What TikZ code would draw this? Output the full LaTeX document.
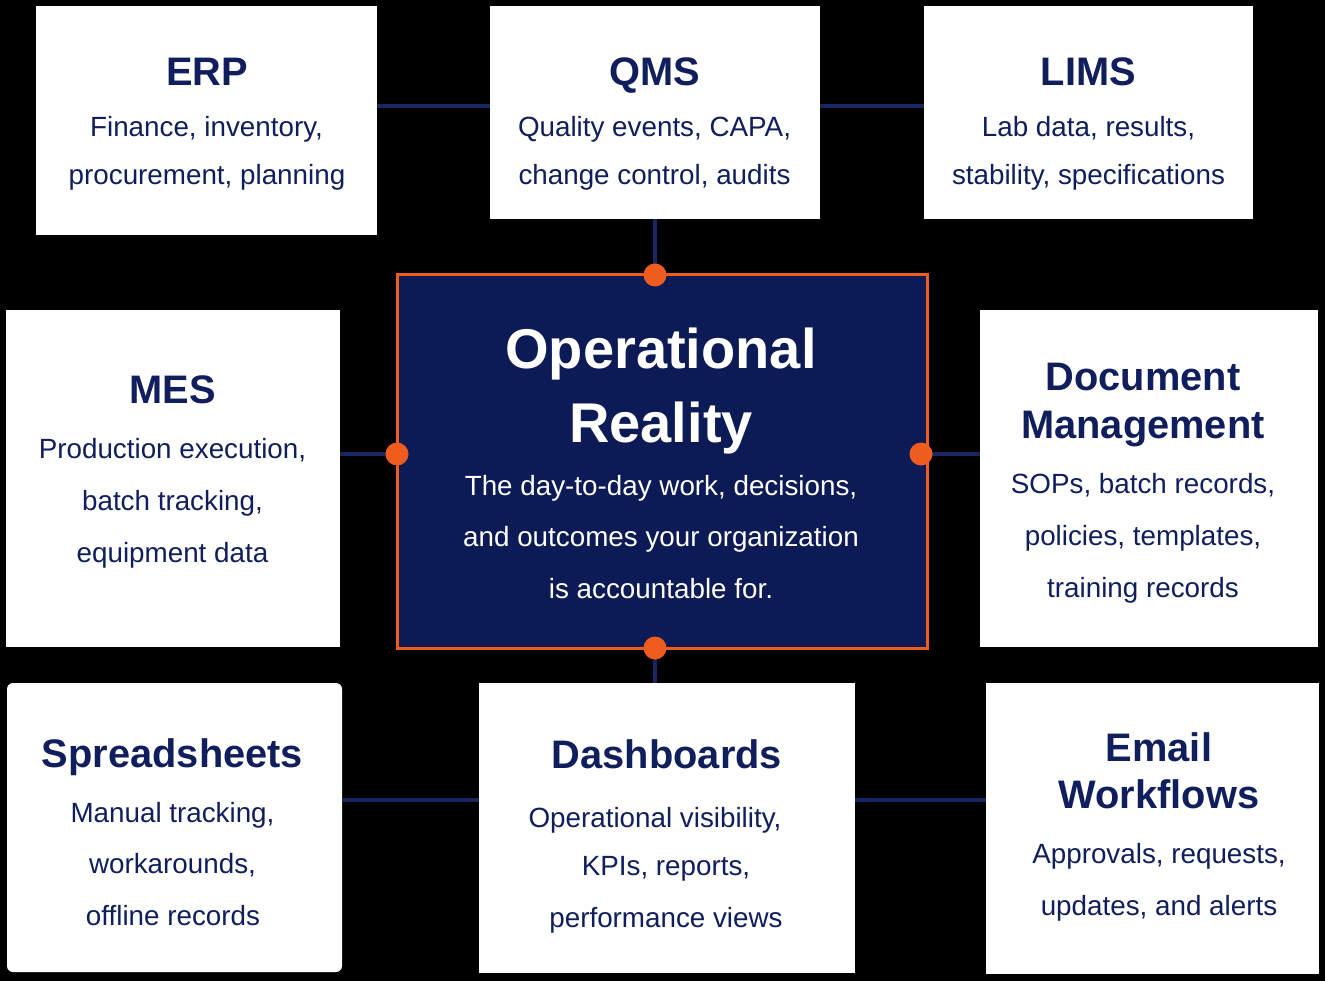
\documentclass[tikz,border=0pt]{standalone}
\usepackage{fontspec}
\setmainfont{Liberation Sans}
\definecolor{navytxt}{RGB}{16,30,94}
\definecolor{navyfill}{RGB}{12,26,86}
\definecolor{navyline}{RGB}{24,38,100}
\definecolor{orng}{RGB}{240,92,30}
\tikzset{
  wbox/.style={rectangle, fill=white, inner sep=0pt, outer sep=0pt},
  ctrbox/.style={rectangle, fill=navyfill, draw=orng, line width=3pt, inner sep=0pt, outer sep=0pt},
  conn/.style={draw=navyline, line width=3.5pt},
  odot/.style={circle, fill=orng, minimum size=23pt, inner sep=0pt},
  ttl/.style={anchor=base, text=navytxt, font=\fontsize{39.8}{42}\selectfont\bfseries, inner sep=0pt},
  bdy/.style={anchor=base, text=navytxt, font=\fontsize{27.8}{30}\selectfont, inner sep=0pt},
  cttl/.style={anchor=base, text=white, font=\fontsize{56}{58}\selectfont\bfseries, inner sep=0pt},
  cbdy/.style={anchor=base, text=white, font=\fontsize{27.8}{30}\selectfont, inner sep=0pt},
}
\begin{document}
\begin{tikzpicture}[x=1pt,y=-1pt]
\useasboundingbox (0,0) rectangle (1325,981);
\fill[black] (0,0) rectangle (1325,981);

% boxes
\node[wbox, minimum width=341pt, minimum height=229pt] (erp) at (206.5,120.5) {};
\node[wbox, minimum width=330pt, minimum height=213pt] (qms) at (655,112.5) {};
\node[wbox, minimum width=329pt, minimum height=213pt] (lims) at (1088.5,112.5) {};
\node[wbox, minimum width=334pt, minimum height=337pt] (mes) at (173,478.5) {};
\node[wbox, minimum width=338pt, minimum height=337pt] (doc) at (1149,478.5) {};
\node[wbox, rounded corners=6pt, minimum width=335pt, minimum height=289pt] (spr) at (174.5,827.5) {};
\node[wbox, minimum width=376pt, minimum height=290pt] (dash) at (667,828) {};
\node[wbox, minimum width=333pt, minimum height=291pt] (email) at (1152.5,828.5) {};
\node[ctrbox, minimum width=530pt, minimum height=373pt] (ctr) at (662,461.5) {};

% connectors
\coordinate (ctop) at (655,275);
\coordinate (cbot) at (655,648);
\coordinate (cleft) at (397,454);
\coordinate (cright) at (921,454);
\draw[conn] (erp.east |- 0,106) -- (qms.west |- 0,106);
\draw[conn] (qms.east |- 0,106) -- (lims.west |- 0,106);
\draw[conn] (qms.south -| ctop) -- (ctop);
\draw[conn] (mes.east |- cleft) -- (cleft);
\draw[conn] (ctr.east |- cright) -- (doc.west |- cright);
\draw[conn] (cbot) -- (dash.north -| cbot);
\draw[conn] (spr.east |- 0,800) -- (dash.west |- 0,800);
\draw[conn] (dash.east |- 0,800) -- (email.west |- 0,800);

% redraw center border over line ends
\node[ctrbox, minimum width=530pt, minimum height=373pt] at (662,461.5) {};

% dots
\node[odot] (d1) at (ctop) {};
\node[odot] (d2) at (cbot) {};
\node[odot] (d3) at (cleft) {};
\node[odot] (d4) at (cright) {};

% ERP
\node[ttl] at (207,86) {ERP};
\node[bdy] at (206.5,137) {Finance, inventory,};
\node[bdy] at (207,185) {procurement, planning};
% QMS
\node[ttl] at (655,86) {QMS};
\node[bdy] at (654.5,137) {Quality events, CAPA,};
\node[bdy] at (654.5,185) {change control, audits};
% LIMS
\node[ttl] at (1088.5,86) {LIMS};
\node[bdy] at (1088.5,137) {Lab data, results,};
\node[bdy] at (1088.5,185) {stability, specifications};
% MES
\node[ttl] at (172.5,403) {MES};
\node[bdy] at (172.5,458) {Production execution,};
\node[bdy] at (172.5,510) {batch tracking,};
\node[bdy] at (172.5,562) {equipment data};
% Center
\node[cttl] at (661,369) {Operational};
\node[cttl] at (661,442) {Reality};
\node[cbdy] at (661,495) {The day-to-day work, decisions,};
\node[cbdy] at (661,546) {and outcomes your organization};
\node[cbdy] at (661,598) {is accountable for.};
% Document Management
\node[ttl] at (1143,391) {Document};
\node[ttl] at (1143,438) {Management};
\node[bdy] at (1143,493) {SOPs, batch records,};
\node[bdy] at (1143,545) {policies, templates,};
\node[bdy] at (1143,597) {training records};
% Spreadsheets
\node[ttl] at (172.5,767) {Spreadsheets};
\node[bdy] at (172.5,822) {Manual tracking,};
\node[bdy] at (172.5,873) {workarounds,};
\node[bdy] at (173,925) {offline records};
% Dashboards
\node[ttl] at (667,768) {Dashboards};
\node[bdy] at (655,827) {Operational visibility,};
\node[bdy] at (666,875) {KPIs, reports,};
\node[bdy] at (666,927) {performance views};
% Email Workflows
\node[ttl] at (1159,761) {Email};
\node[ttl] at (1159,808) {Workflows};
\node[bdy] at (1159,863) {Approvals, requests,};
\node[bdy] at (1159,915) {updates, and alerts};
\end{tikzpicture}
\end{document}
